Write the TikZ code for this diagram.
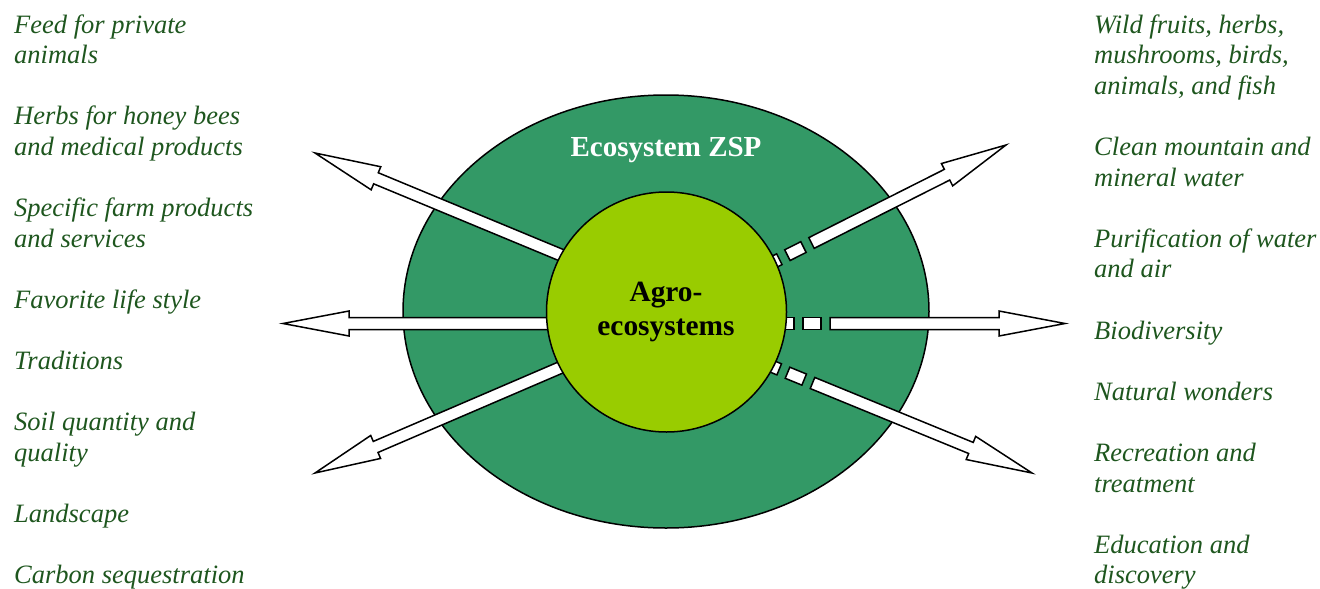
\documentclass[tikz,border=0pt]{standalone}
\usepackage{fontspec}
\setmainfont{Liberation Serif}
\usetikzlibrary{calc,shapes.geometric}
\definecolor{txtgreen}{HTML}{1E561E}
\definecolor{ecogreen}{HTML}{339966}
\definecolor{agrogreen}{HTML}{99CC00}
\tikzset{
  itemtext/.style={anchor=base west, inner sep=0pt, align=left, text=txtgreen,
    font=\fontsize{26.5}{30.6}\selectfont\itshape},
  arrowbox/.style={draw=black, fill=white, line width=1.5pt, line join=miter},
  ringline/.style={draw=black, line width=1.5pt},
}
\newcommand\blockarrow[2]{%
  \coordinate (hb) at ($(#2)!66pt!(#1)$);
  \draw[arrowbox] ($(#1)!6pt!90:(#2)$) -- ($(hb)!6pt!90:(#2)$) -- ($(hb)!12.5pt!90:(#2)$)
    -- (#2) -- ($(hb)!12.5pt!-90:(#2)$) -- ($(hb)!6pt!-90:(#2)$) -- ($(#1)!6pt!-90:(#2)$) -- cycle;
}
\newcommand\shaftbox[2]{%
  \draw[arrowbox] ($(#1)!6pt!90:(#2)$) -- ($(#2)!6pt!-90:(#1)$) -- ($(#2)!6pt!90:(#1)$)
    -- ($(#1)!6pt!-90:(#2)$) -- cycle;
}
\newcommand\dashedtail[2]{% #1 solid start, #2 tip
  \coordinate (d1) at ($(#1)!-9pt!(#2)$);
  \coordinate (d2) at ($(#1)!-27pt!(#2)$);
  \coordinate (d3) at ($(#1)!-36pt!(#2)$);
  \coordinate (d4) at ($(#1)!-54pt!(#2)$);
  \shaftbox{d1}{d2}
  \shaftbox{d3}{d4}
}
\begin{document}
\begin{tikzpicture}[x=1pt,y=-1pt]
\useasboundingbox (0,0) rectangle (1320,589);

% ecosystem ellipse
\node[ringline, fill=ecogreen, ellipse, minimum width=526pt, minimum height=433pt, inner sep=0pt] (eco) at (666,311.5) {};

% arrow end points
\coordinate (tUL) at (315,153);
\coordinate (sUL) at (585,265);
\coordinate (tML) at (283,323.5);
\coordinate (sML) at (580,323.5);
\coordinate (tLL) at (315,473);
\coordinate (sLL) at (585,357);
\coordinate (tUR) at (1006,145);
\coordinate (sUR) at (811.5,243);
\coordinate (tMR) at (1065,323.5);
\coordinate (sMR) at (830,323.5);
\coordinate (tLR) at (1032,473);
\coordinate (sLR) at (812.5,383);

\blockarrow{sUL}{tUL}
\blockarrow{sML}{tML}
\blockarrow{sLL}{tLL}
\blockarrow{sUR}{tUR}
\blockarrow{sMR}{tMR}
\blockarrow{sLR}{tLR}
\dashedtail{sUR}{tUR}
\dashedtail{sMR}{tMR}
\dashedtail{sLR}{tLR}

% agro circle
\node[ringline, fill=agrogreen, circle, minimum size=240pt, inner sep=0pt] (agro) at (666.5,312) {};

\node[anchor=base, inner sep=0pt, text=white, font=\fontsize{29}{33}\selectfont\bfseries] (ecolabel) at (666,156) {Ecosystem ZSP};
\node[anchor=base, inner sep=0pt, font=\fontsize{29.4}{33.3}\selectfont\bfseries] (agrolabel1) at (666,301.7) {Agro-};
\node[anchor=base, inner sep=0pt, font=\fontsize{29.4}{33.3}\selectfont\bfseries] (agrolabel2) at (666,335) {ecosystems};

% left column (anchor = baseline of last line)
\node[itemtext] (l1) at (14,63.6) {Feed for private\\animals};
\node[itemtext] (l2) at (14,155.4) {Herbs for honey bees\\and medical products};
\node[itemtext] (l3) at (14,247.2) {Specific farm products\\and services};
\node[itemtext] (l4) at (14,308.4) {Favorite life style};
\node[itemtext] (l5) at (14,369.6) {Traditions};
\node[itemtext] (l6) at (14,461.4) {Soil quantity and\\quality};
\node[itemtext] (l7) at (14,522.6) {Landscape};
\node[itemtext] (l8) at (14,583.8) {Carbon sequestration};

% right column
\node[itemtext] (r1) at (1094,94.2) {Wild fruits, herbs,\\mushrooms, birds,\\animals, and fish};
\node[itemtext] (r2) at (1094,186) {Clean mountain and\\mineral water};
\node[itemtext] (r3) at (1094,277.8) {Purification of water\\and air};
\node[itemtext] (r4) at (1094,339) {Biodiversity};
\node[itemtext] (r5) at (1094,400.2) {Natural wonders};
\node[itemtext] (r6) at (1094,492) {Recreation and\\treatment};
\node[itemtext] (r7) at (1094,583.8) {Education and\\discovery};
\end{tikzpicture}
\end{document}
